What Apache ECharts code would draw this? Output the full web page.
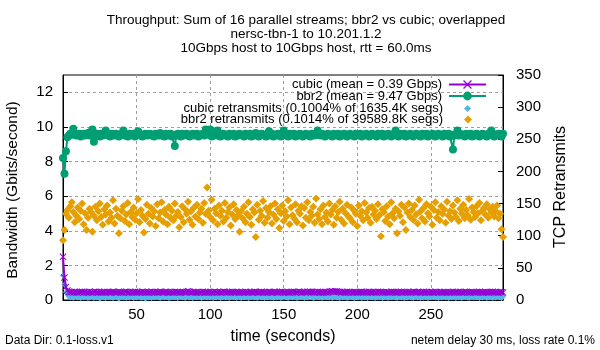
<!DOCTYPE html>
<html>
<head>
<meta charset="utf-8">
<script src="https://cdn.jsdelivr.net/npm/echarts@6/dist/echarts.min.js"></script>
<style>html,body{margin:0;padding:0;background:#fff}#c{width:600px;height:350px}</style>
</head>
<body>
<div id="c"></div>
<script>
// ---- data (one sample per second, t = 0 .. 299) ----
var titleLines = [
  'Throughput: Sum of 16 parallel streams; bbr2 vs cubic; overlapped',
  'nersc-tbn-1 to 10.201.1.2',
  '10Gbps host to 10Gbps host, rtt = 60.0ms'
];
var seriesNames = [
  'cubic (mean = 0.39 Gbps)',
  'bbr2 (mean = 9.47 Gbps)',
  'cubic retransmits (0.1004% of 1635.4K segs)',
  'bbr2 retransmits (0.1014% of 39589.8K segs)'
];
var xTicks = [50, 100, 150, 200, 250];
var leftTicks = [0, 2, 4, 6, 8, 10, 12];
var rightTicks = [0, 50, 100, 150, 200, 250, 300, 350];

var cubicGbps = [
2.50,1.30,0.75,0.55,0.47,0.45,0.46,0.44,0.47,0.45,0.43,0.46,0.45,0.48,0.44,0.46,0.45,0.43,0.47,0.45,
0.44,0.46,0.48,0.45,0.43,0.46,0.44,0.45,0.47,0.44,0.46,0.45,0.43,0.45,0.48,0.46,0.44,0.45,0.47,0.44,
0.45,0.43,0.46,0.48,0.45,0.44,0.46,0.43,0.45,0.47,0.44,0.46,0.45,0.44,0.48,0.45,0.43,0.46,0.44,0.45,
0.47,0.45,0.44,0.46,0.43,0.45,0.48,0.46,0.44,0.45,0.47,0.44,0.43,0.46,0.45,0.44,0.47,0.45,0.46,0.44,
0.43,0.45,0.46,0.44,0.48,0.50,0.47,0.45,0.44,0.46,0.45,0.43,0.46,0.44,0.45,0.47,0.44,0.46,0.45,0.43,
0.46,0.44,0.45,0.47,0.45,0.44,0.46,0.43,0.45,0.48,0.46,0.44,0.45,0.46,0.44,0.47,0.45,0.43,0.46,0.45,
0.44,0.46,0.45,0.43,0.47,0.45,0.44,0.46,0.45,0.44,0.48,0.46,0.45,0.43,0.45,0.47,0.44,0.46,0.45,0.44,
0.46,0.45,0.43,0.46,0.48,0.45,0.44,0.46,0.45,0.47,0.44,0.45,0.46,0.44,0.43,0.46,0.45,0.47,0.44,0.45,
0.47,0.46,0.44,0.45,0.46,0.44,0.47,0.46,0.48,0.45,0.46,0.44,0.45,0.47,0.44,0.46,0.45,0.43,0.46,0.44,
0.45,0.47,0.49,0.50,0.48,0.51,0.49,0.47,0.46,0.44,0.46,0.45,0.43,0.47,0.44,0.46,0.45,0.44,0.46,0.45,
0.43,0.46,0.45,0.47,0.44,0.45,0.46,0.44,0.48,0.45,0.43,0.46,0.45,0.44,0.47,0.45,0.46,0.44,0.45,0.43,
0.46,0.45,0.44,0.47,0.45,0.46,0.44,0.43,0.46,0.45,0.47,0.44,0.46,0.45,0.43,0.46,0.44,0.45,0.47,0.46,
0.44,0.45,0.46,0.43,0.45,0.47,0.44,0.46,0.45,0.44,0.46,0.45,0.43,0.47,0.45,0.44,0.46,0.45,0.44,0.46,
0.45,0.43,0.46,0.44,0.45,0.47,0.44,0.46,0.45,0.43,0.46,0.44,0.45,0.47,0.46,0.44,0.45,0.43,0.46,0.45,
0.44,0.46,0.45,0.47,0.44,0.45,0.43,0.46,0.45,0.44,0.46,0.45,0.47,0.44,0.46,0.45,0.43,0.46,0.45,0.44
];
var bbr2Gbps = [
8.20,7.30,8.60,9.40,9.50,9.60,9.55,9.90,9.60,9.50,9.55,9.60,9.45,9.55,9.60,9.50,9.55,9.65,9.50,9.70,
9.85,9.15,9.50,9.60,9.55,9.45,9.60,9.50,9.55,9.80,9.60,9.50,9.45,9.60,9.55,9.50,9.60,9.55,9.45,9.55,
9.60,9.80,9.50,9.55,9.45,9.60,9.50,9.55,9.60,9.45,9.55,9.75,9.60,9.50,9.45,9.55,9.60,9.50,9.55,9.60,
9.50,9.55,9.45,9.60,9.55,9.50,9.65,9.50,9.55,9.45,9.60,9.55,9.50,9.60,9.45,9.55,8.90,9.50,9.60,9.55,
9.45,9.60,9.50,9.55,9.60,9.50,9.45,9.55,9.60,9.50,9.55,9.60,9.45,9.50,9.55,9.60,9.50,9.85,9.60,9.55,
9.85,9.45,9.60,9.55,9.50,9.80,9.55,9.45,9.50,9.60,9.55,9.50,9.45,9.60,9.55,9.50,9.60,9.45,9.55,9.50,
9.60,9.55,9.50,9.45,9.60,9.55,9.50,9.60,9.45,9.55,9.50,9.65,9.55,9.45,9.50,9.60,9.55,9.50,9.45,9.60,
9.75,9.50,9.60,9.45,9.55,9.50,9.60,9.55,9.45,9.50,9.80,9.55,9.50,9.45,9.60,9.55,9.50,9.60,9.45,9.55,
9.50,9.60,9.55,9.45,9.50,9.60,9.55,9.50,9.45,9.60,9.55,9.50,9.60,9.80,9.55,9.50,9.60,9.55,9.45,9.50,
9.60,9.55,9.50,9.45,9.60,9.55,9.50,9.60,9.45,9.55,9.50,9.60,9.55,9.45,9.50,9.60,9.55,9.50,9.45,9.60,
9.55,9.50,9.60,9.45,9.55,9.50,9.60,9.55,9.45,9.50,9.60,9.55,9.50,9.45,9.60,9.55,9.50,9.60,9.45,9.55,
9.50,9.60,9.55,9.45,9.50,9.60,9.80,9.50,9.45,9.60,9.55,9.50,9.60,9.45,9.55,9.50,9.60,9.55,9.45,9.50,
9.60,9.55,9.50,9.45,9.60,9.55,9.50,9.60,9.45,9.55,9.50,9.60,9.55,9.45,9.50,9.60,9.55,9.50,9.45,9.60,
9.55,9.50,9.60,9.45,9.55,8.70,9.50,9.55,9.80,9.50,9.60,9.55,9.50,9.45,9.60,9.55,9.50,9.60,9.45,9.55,
9.50,9.60,9.55,9.45,9.50,9.60,9.55,9.50,9.45,9.60,9.55,9.80,9.60,9.45,9.55,9.50,9.60,9.55,9.45,9.60
];
var cubicRetrans = [
38,24,12,8,5,4,6,3,5,7,4,5,3,6,4,8,5,3,4,6,
5,3,7,4,6,2,5,8,4,3,6,5,4,7,3,5,6,4,2,5,
7,4,5,3,6,4,8,5,3,5,4,6,7,3,4,5,2,6,4,5,
3,6,4,5,7,4,3,5,6,4,5,8,3,4,6,5,4,7,3,5,
6,4,5,3,7,5,4,6,3,5,9,4,6,5,3,4,7,5,4,6,
4,5,3,6,4,7,5,3,4,6,5,4,8,3,5,6,4,5,3,7,
5,3,6,4,5,7,3,4,6,5,4,6,3,5,7,4,5,3,6,4,
6,4,5,3,7,4,5,6,3,4,5,7,4,3,6,5,4,6,5,3,
4,6,5,7,3,5,4,6,8,5,3,4,6,5,4,7,3,5,6,4,
5,4,6,3,5,7,4,5,3,6,4,5,7,3,4,6,5,4,3,6,
4,5,7,3,6,4,5,3,6,5,4,7,3,5,4,6,5,3,4,6,
5,3,6,4,5,7,4,3,6,5,4,5,3,7,4,6,5,4,3,5,
6,4,5,3,7,4,5,6,3,5,4,6,8,4,5,3,6,4,5,7,
4,6,3,5,4,7,5,3,6,4,5,3,6,5,7,4,3,5,6,4,
5,4,6,3,5,4,7,5,3,6,4,5,3,6,4,5,7,4,3,5
];
var bbr2Retrans = [
93,109,134,140,128,146,152,137,121,131,144,126,139,150,118,135,109,128,142,137,
106,131,145,124,138,150,129,117,141,133,147,122,136,128,155,119,142,131,104,127,
139,146,123,133,151,118,137,129,144,125,135,157,121,140,131,105,126,148,134,119,
143,130,138,115,149,127,136,152,122,140,133,118,145,128,139,124,150,131,137,113,
129,146,121,141,134,153,125,138,117,144,130,148,126,136,142,120,151,134,175,139,
129,156,124,142,135,118,147,131,139,122,151,128,137,144,116,133,149,126,140,131,
106,138,127,145,121,134,152,129,117,141,136,98,148,125,139,131,154,120,143,128,
137,146,119,133,150,126,141,112,135,147,123,138,130,155,118,144,132,127,149,121,
139,134,146,116,143,128,152,124,137,131,145,120,158,133,126,141,118,147,129,136,
122,150,133,140,117,146,128,137,153,125,142,119,135,148,130,127,144,121,139,134,
115,147,131,138,124,151,136,128,143,120,145,133,139,126,149,132,99,141,137,123,
146,130,118,152,135,127,142,104,138,131,148,121,144,109,136,150,129,140,125,147,
133,119,156,138,127,143,122,149,135,130,145,117,140,152,128,137,124,146,134,141,
120,153,131,138,126,147,136,129,155,123,142,134,148,127,140,132,157,125,144,137,
129,146,135,151,124,139,143,133,149,128,141,136,145,130,138,147,127,134,110,98
];

// ---- build chart ----
function pairs(arr) { return arr.map(function (v, i) { return [i, v]; }); }

var FONT = '"Liberation Sans", Arial, sans-serif';
var xSym = 'path://M0,1L1,0L5,4L9,0L10,1L6,5L10,9L9,10L5,6L1,10L0,9L4,5Z';
var COLORS = ['#9400d3', '#009e73', '#56b4e9', '#e69f00'];

function legendFor(name, top, w, h, right, padR) {
  return {
    data: [name], right: right, top: top, orient: 'vertical', align: 'right',
    padding: 0, itemWidth: w, itemHeight: h, itemGap: 0,
    selectedMode: false,
    textStyle: { fontFamily: FONT, fontSize: 13, color: '#000', lineHeight: 12, padding: [0, padR, 0, 0] }
  };
}
function ticksOnly(list) {
  return function (v) { return list.indexOf(v) >= 0 ? String(v) : ''; };
}

var chart = echarts.init(document.getElementById('c'), null, { renderer: 'canvas' });
chart.setOption({
  animation: false,
  backgroundColor: '#fff',
  grid: { left: 63, top: 75, width: 440, height: 225, show: true, borderColor: '#000', borderWidth: 1, backgroundColor: 'transparent' },
  legend: [
    legendFor(seriesNames[0], 78, 37, 11, 113, 2),
    legendFor(seriesNames[1], 89.5, 37, 11, 113, 2),
    legendFor(seriesNames[2], 102, 7, 7, 129, 16),
    legendFor(seriesNames[3], 113, 8, 8, 128, 16)
  ],
  xAxis: {
    type: 'value', min: 0, max: 299, interval: 50,
    axisLine: { show: true, lineStyle: { color: '#000', width: 1 } },
    axisTick: { show: true, inside: true, length: 5, lineStyle: { color: '#000' } },
    axisLabel: { margin: 7, fontFamily: FONT, fontSize: 15, color: '#000', showMinLabel: false, showMaxLabel: false, formatter: ticksOnly(xTicks) },
    splitLine: { show: true, showMinLine: false, showMaxLine: false, lineStyle: { color: '#a0a0a0', type: [3, 3], width: 1 } }
  },
  yAxis: [{
    type: 'value', min: 0, max: 13, interval: 2, position: 'left',
    axisLine: { show: true, lineStyle: { color: '#000', width: 1 } },
    axisTick: { show: true, inside: true, length: 5, lineStyle: { color: '#000' } },
    axisLabel: { margin: 10, fontFamily: FONT, fontSize: 15, color: '#000', showMaxLabel: false, formatter: ticksOnly(leftTicks) },
    splitLine: { show: true, showMinLine: false, showMaxLine: false, lineStyle: { color: '#a0a0a0', type: [3, 3], width: 1 } }
  }, {
    type: 'value', min: 0, max: 350, interval: 50, position: 'right',
    axisLine: { show: true, lineStyle: { color: '#000', width: 1 } },
    axisTick: { show: true, inside: true, length: 5, lineStyle: { color: '#000' } },
    axisLabel: { margin: 13, fontFamily: FONT, fontSize: 15, color: '#000', formatter: ticksOnly(rightTicks) },
    splitLine: { show: false }
  }],
  series: [{
    name: seriesNames[0], type: 'line', yAxisIndex: 0, data: pairs(cubicGbps),
    symbol: xSym, symbolSize: 7, showAllSymbol: true,
    lineStyle: { color: COLORS[0], width: 2 }, itemStyle: { color: COLORS[0] }
  }, {
    name: seriesNames[1], type: 'line', yAxisIndex: 0, data: pairs(bbr2Gbps),
    symbol: 'circle', symbolSize: 8, showAllSymbol: true,
    lineStyle: { color: COLORS[1], width: 2 }, itemStyle: { color: COLORS[1] }
  }, {
    name: seriesNames[2], type: 'scatter', yAxisIndex: 1, data: pairs(cubicRetrans),
    symbol: 'diamond', symbolSize: 6, itemStyle: { color: COLORS[2], opacity: 1 }
  }, {
    name: seriesNames[3], type: 'scatter', yAxisIndex: 1, data: pairs(bbr2Retrans),
    symbol: 'diamond', symbolSize: 8, itemStyle: { color: COLORS[3], opacity: 1 }
  }],
  graphic: [
    { type: 'text', x: 306, y: 20, style: { text: titleLines[0], font: '13.5px ' + FONT, fill: '#000', textAlign: 'center', textVerticalAlign: 'middle' } },
    { type: 'text', x: 306, y: 34, style: { text: titleLines[1], font: '13.5px ' + FONT, fill: '#000', textAlign: 'center', textVerticalAlign: 'middle' } },
    { type: 'text', x: 306, y: 48, style: { text: titleLines[2], font: '13.5px ' + FONT, fill: '#000', textAlign: 'center', textVerticalAlign: 'middle' } },
    { type: 'text', x: 13, y: 190, rotation: Math.PI / 2, style: { text: 'Bandwidth (Gbits/second)', font: '15.5px ' + FONT, fill: '#000', textAlign: 'center', textVerticalAlign: 'middle' } },
    { type: 'text', x: 561, y: 187, rotation: Math.PI / 2, style: { text: 'TCP Retransmits', font: '16px ' + FONT, fill: '#000', textAlign: 'center', textVerticalAlign: 'middle' } },
    { type: 'text', x: 283, y: 337, style: { text: 'time (seconds)', font: '16px ' + FONT, fill: '#000', textAlign: 'center', textVerticalAlign: 'middle' } },
    { type: 'text', x: 5, y: 341, style: { text: 'Data Dir: 0.1-loss.v1', font: '12px ' + FONT, fill: '#000', textAlign: 'left', textVerticalAlign: 'middle' } },
    { type: 'text', x: 595, y: 341, style: { text: 'netem delay 30 ms, loss rate 0.1%', font: '12px ' + FONT, fill: '#000', textAlign: 'right', textVerticalAlign: 'middle' } }
  ]
});
</script>
</body>
</html>
